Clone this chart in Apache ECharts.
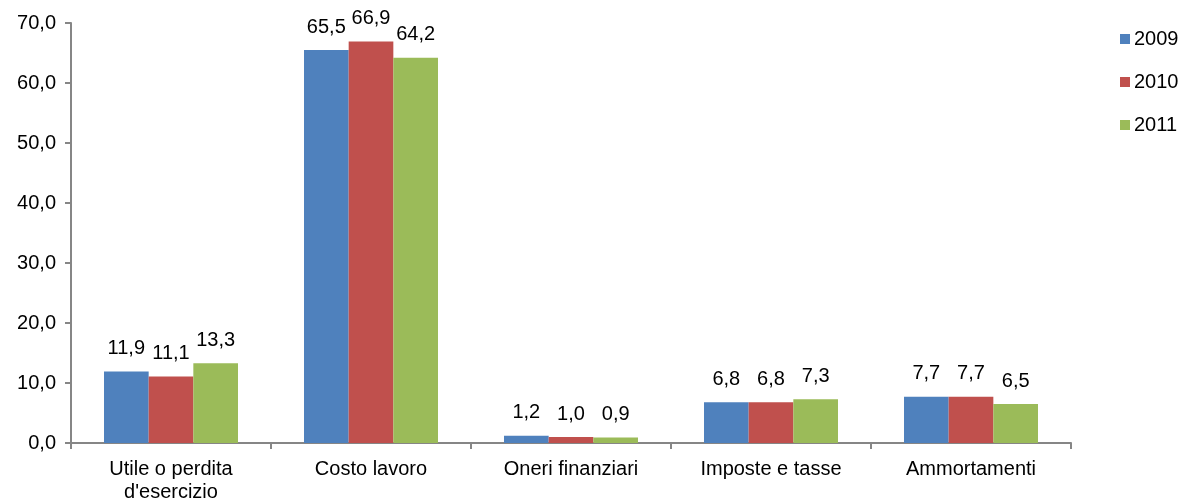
<!DOCTYPE html>
<html>
<head>
<meta charset="utf-8">
<script src="https://cdn.jsdelivr.net/npm/echarts@6/dist/echarts.min.js"></script>
<style>html,body{margin:0;padding:0;background:#fff;}#c{width:1184px;height:501px;}</style>
</head>
<body>
<div id="c"></div>
<script>
const categories = ['Utile o perdita\nd\'esercizio', 'Costo lavoro', 'Oneri finanziari', 'Imposte e tasse', 'Ammortamenti'];
const seriesNames = ['2009', '2010', '2011'];
const values2009 = [11.9, 65.5, 1.2, 6.8, 7.7];
const values2010 = [11.1, 66.9, 1.0, 6.8, 7.7];
const values2011 = [13.3, 64.2, 0.9, 7.3, 6.5];
const colors = ['#4F81BD', '#C0504D', '#9BBB59'];

const fmt = v => Number(v).toFixed(1).replace('.', ',');
const FONT = 'Liberation Sans, Arial, sans-serif';
const FS = 20;
const allValues = [values2009, values2010, values2011];

const chart = echarts.init(document.getElementById('c'));
chart.setOption({
  animation: false,
  backgroundColor: '#fff',
  textStyle: { fontFamily: FONT },
  grid: { left: 71, right: 113, top: 23, bottom: 58, containLabel: false, outerBoundsMode: 'none' },
  legend: {
    orient: 'vertical', left: 1115, top: 24,
    itemWidth: 10, itemHeight: 10, itemGap: 23,
    icon: 'rect',
    textStyle: { fontSize: FS, color: '#000', fontFamily: FONT, padding: [0, 0, 0, -1] },
    data: seriesNames
  },
  xAxis: {
    type: 'category', data: categories,
    axisLine: { lineStyle: { color: '#868686', width: 2 } },
    axisTick: { show: true, length: 6, inside: false, lineStyle: { color: '#868686', width: 2 } },
    axisLabel: { color: '#000', fontSize: FS, fontFamily: FONT, lineHeight: 23, margin: 15, interval: 0 }
  },
  yAxis: {
    type: 'value', min: 0, max: 70, interval: 10,
    axisLine: { show: true, lineStyle: { color: '#868686', width: 2 } },
    axisTick: { show: true, length: 6, lineStyle: { color: '#868686', width: 2 } },
    splitLine: { show: false },
    axisLabel: { color: '#000', fontSize: FS, fontFamily: FONT, margin: 15, formatter: fmt }
  },
  series: seriesNames.map((n, i) => ({
    name: n, type: 'bar', data: allValues[i],
    itemStyle: { color: colors[i] },
    barGap: '0%', barCategoryGap: '33%',
    label: { show: true, position: 'top', distance: 13, color: '#000', fontSize: FS, fontFamily: FONT, formatter: p => fmt(p.value) }
  }))
});
</script>
</body>
</html>
